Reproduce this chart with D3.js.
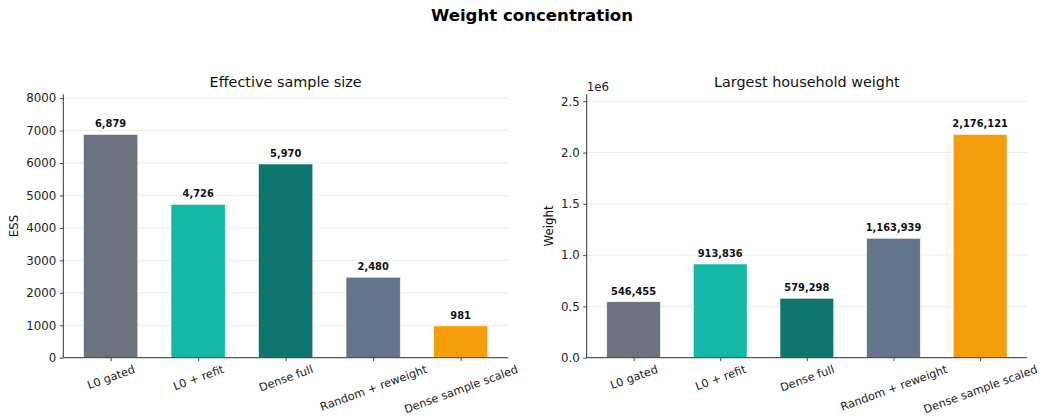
<!DOCTYPE html>
<html><head><meta charset="utf-8">
<script src="https://cdn.jsdelivr.net/npm/d3@7"></script>
<style>body{margin:0;background:#fff}svg{display:block;font-family:"DejaVu Sans",sans-serif}</style>
</head><body><svg id="c" width="1049" height="417"></svg>
<script>
const categories = ["L0 gated","L0 + refit","Dense full","Random + reweight","Dense sample scaled"];
const colors = ["#6b7280","#14b8a6","#0f766e","#64748b","#f59e0b"];
const essValues = [6879,4726,5970,2480,981];
const weightValues = [546455,913836,579298,1163939,2176121];
const essTicks = [0,1000,2000,3000,4000,5000,6000,7000,8000];
const weightTicks = [0,500000,1000000,1500000,2000000,2500000];

const svg = d3.select("#c");
const fmt = d3.format(",");
const FS = 11.8, XFS = 11.3;
svg.append("text").attr("x",532).attr("y",21).attr("text-anchor","middle")
  .attr("font-weight","bold").attr("font-size",16.6).attr("fill","#000").text("Weight concentration");

function panel(o){
  const g = svg.append("g");
  const x = d3.scalePoint().domain(categories).range([o.x0,o.x1]).padding(0.541);
  const y = d3.scaleLinear().domain([0, d3.max(o.values)*1.18]).range([o.yb,o.yt]);
  const bw = x.step()*0.62;
  g.selectAll(".grid").data(o.ticks).join("line")
    .attr("x1",o.x0).attr("x2",o.x1).attr("y1",d=>y(d)).attr("y2",d=>y(d))
    .attr("stroke","#e8e9ec").attr("stroke-width",0.9);
  g.selectAll(".bar").data(o.values).join("rect")
    .attr("x",(d,i)=>x(categories[i])-bw/2).attr("width",bw)
    .attr("y",d=>y(d)).attr("height",d=>o.yb-y(d))
    .attr("fill",(d,i)=>colors[i]).attr("stroke","#fff").attr("stroke-width",0.8).attr("stroke-opacity",0.7);
  g.selectAll(".val").data(o.values).join("text")
    .attr("x",(d,i)=>x(categories[i])).attr("y",d=>y(d)-7)
    .attr("text-anchor","middle").attr("font-weight","bold").attr("font-size",9.9).attr("fill","#111")
    .text(d=>fmt(d));
  const ya = d3.axisLeft(y).tickValues(o.ticks).tickSize(3.5).tickPadding(3.5).tickFormat(o.tickFmt);
  const yg = g.append("g").attr("transform",`translate(${o.x0},0)`).call(ya);
  yg.select(".domain").attr("d",`M0,${o.yt}V${o.yb}`);
  const xa = d3.axisBottom(x).tickSize(3.5).tickPadding(3.5);
  const xg = g.append("g").attr("transform",`translate(0,${o.yb})`).call(xa);
  xg.select(".domain").attr("d",`M${o.x0},0H${o.x1}`);
  [yg,xg].forEach(a=>{
    a.select(".domain").attr("stroke","#333").attr("stroke-width",1);
    a.selectAll(".tick line").attr("stroke","#333").attr("stroke-width",0.9);
    a.selectAll("text").attr("font-size",FS).attr("fill","#222").attr("font-family","DejaVu Sans");
  });
  xg.selectAll(".tick text").attr("font-size",XFS).each(function(){
    const t = d3.select(this);
    const w = this.getComputedTextLength(), h = XFS;
    const a = 20*Math.PI/180;
    const bh = w*Math.sin(a)+h*Math.cos(a);
    const cy = 6 + bh/2;
    t.attr("y",null).attr("dy",null).attr("dominant-baseline","central")
      .attr("text-anchor","middle")
      .attr("transform",`translate(0,${cy}) rotate(-20)`);
  });
  g.append("text").attr("x",(o.x0+o.x1)/2).attr("y",o.yt-7).attr("text-anchor","middle")
    .attr("font-size",14.4).attr("fill","#111").text(o.title);
  g.append("text").attr("transform",`translate(${o.ylx},${(o.yt+o.yb)/2}) rotate(-90)`)
    .attr("text-anchor","middle").attr("font-size",FS).attr("fill","#111").text(o.ylabel);
  if(o.offset) g.append("text").attr("x",o.x0).attr("y",o.yt-3).attr("font-size",FS).attr("fill","#222").text(o.offset);
}

panel({x0:63.3,x1:508,yt:94.3,yb:357.7,values:essValues,ticks:essTicks,tickFmt:d3.format("d"),
  title:"Effective sample size",ylabel:"ESS",ylx:18});
panel({x0:586.7,x1:1027,yt:94.3,yb:357.7,values:weightValues,ticks:weightTicks,tickFmt:d=>(d/1e6).toFixed(1),
  title:"Largest household weight",ylabel:"Weight",ylx:553,offset:"1e6"});
</script></body></html>
